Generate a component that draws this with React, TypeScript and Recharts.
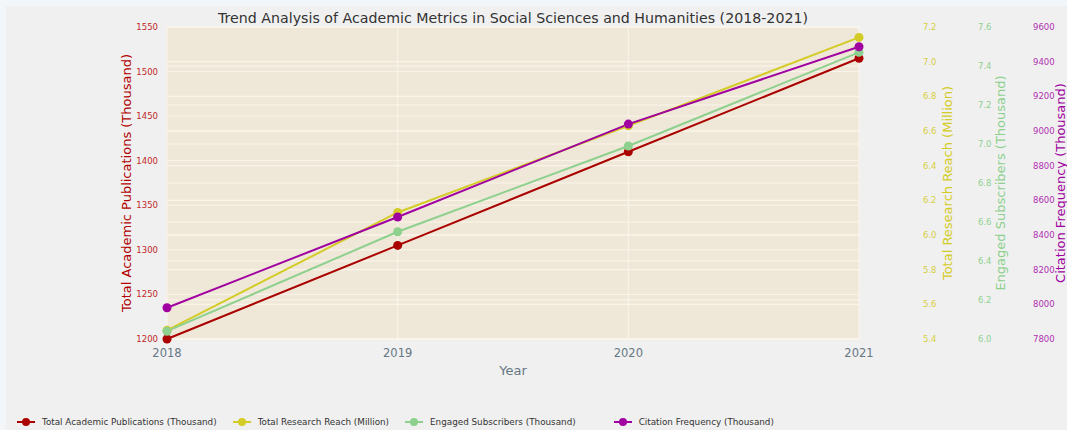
import { LineChart, Line, XAxis, YAxis, CartesianGrid } from 'recharts';

const years = [2018, 2019, 2020, 2021];
const publications = [1200, 1305, 1410, 1515];
const researchReach = [5.45, 6.13, 6.63, 7.14];
const engagedSubscribers = [6.04, 6.55, 6.99, 7.47];
const citationFrequency = [7980, 8504, 9040, 9486];

const pubTicks = [1200, 1250, 1300, 1350, 1400, 1450, 1500, 1550];
const reachTicks = [5.4, 5.6, 5.8, 6.0, 6.2, 6.4, 6.6, 6.8, 7.0, 7.2];
const subsTicks = [6.0, 6.2, 6.4, 6.6, 6.8, 7.0, 7.2, 7.4, 7.6];
const citeTicks = [7800, 8000, 8200, 8400, 8600, 8800, 9000, 9200, 9400, 9600];

// axis ids are prefixed so the right-hand axes stack in this order
const series = [
  { key: 'pub', axis: 'y1', name: 'Total Academic Publications (Thousand)', color: '#aa0000', tick: '#c02828' },
  { key: 'reach', axis: 'y2', name: 'Total Research Reach (Million)', color: '#d4cc26', tick: '#d6cf3e' },
  { key: 'subs', axis: 'y3', name: 'Engaged Subscribers (Thousand)', color: '#8ed08e', tick: '#8ed08e' },
  { key: 'cite', axis: 'y4', name: 'Citation Frequency (Thousand)', color: '#a000a0', tick: '#b030b0' },
];

const data = years.map((year, i) => ({
  year,
  pub: publications[i],
  reach: researchReach[i],
  subs: engagedSubscribers[i],
  cite: citationFrequency[i],
}));

const FONT = '"DejaVu Sans", sans-serif';
const PLOT_BG = '#efe8d8';
const GRID = '#faf5ea';

// rotated axis title, placed relative to the axis box
const axisTitle = (text: string, color: string, dx: number) => ({
  content: (props: any) => {
    const vb = props.viewBox || {};
    const cx = vb.x + dx;
    const cy = vb.y + vb.height / 2;
    return (
      <text
        x={cx}
        y={cy}
        transform={`rotate(-90 ${cx} ${cy})`}
        textAnchor="middle"
        dominantBaseline="central"
        fill={color}
        fontSize={13}
        fontFamily={FONT}
      >
        {text}
      </text>
    );
  },
});

const xTitle = {
  content: (props: any) => {
    const vb = props.viewBox || {};
    return (
      <text
        x={vb.x + vb.width / 2}
        y={vb.y + 31}
        textAnchor="middle"
        dominantBaseline="central"
        fill="#667785"
        fontSize={13}
        fontFamily={FONT}
      >
        Year
      </text>
    );
  },
};

function LegendRow() {
  return (
    <div
      style={{
        position: 'absolute',
        left: 17,
        top: 416,
        display: 'flex',
        alignItems: 'center',
        gap: 16,
        fontFamily: FONT,
        fontSize: 8.8,
        color: '#333',
        whiteSpace: 'nowrap',
      }}
    >
      {series.map((s) => (
        <div key={s.key} style={{ display: 'flex', alignItems: 'center', gap: 7, marginRight: s.key === 'subs' ? 22 : 0 }}>
          <svg width={18} height={12}>
            <line x1={0} y1={6} x2={18} y2={6} stroke={s.color} strokeWidth={2} />
            <circle cx={9} cy={6} r={4} fill={s.color} />
          </svg>
          <span>{s.name}</span>
        </div>
      ))}
    </div>
  );
}

export default function App() {
  const tickStyle = (fill: string) => ({ fill, fontSize: 8.5, fontFamily: FONT });
  return (
    <div style={{ position: 'absolute', left: 0, top: 0, width: 1067, height: 430, background: '#f3f6f9', overflow: 'hidden' }}>
      <div style={{ position: 'absolute', left: 6, top: 6, width: 1061, height: 424, background: '#f0f0f0' }} />
      <div
        style={{
          position: 'absolute',
          left: 167,
          width: 692,
          top: 8,
          lineHeight: '20px',
          textAlign: 'center',
          fontFamily: FONT,
          fontSize: 14.2,
          color: '#333',
          whiteSpace: 'nowrap',
        }}
      >
        Trend Analysis of Academic Metrics in Social Sciences and Humanities (2018-2021)
      </div>
      <div style={{ position: 'absolute', left: 0, top: 0 }}>
        <LineChart width={1067} height={430} data={data} margin={{ top: 27, right: 0, bottom: 41, left: 0 }}>
          <CartesianGrid yAxisId="y1" fill={PLOT_BG} stroke={GRID} strokeWidth={1} />
          <CartesianGrid yAxisId="y2" vertical={false} stroke={GRID} strokeWidth={1} />
          <CartesianGrid yAxisId="y3" vertical={false} stroke={GRID} strokeWidth={1} />
          <CartesianGrid yAxisId="y4" vertical={false} stroke={GRID} strokeWidth={1} />
          <XAxis
            dataKey="year"
            type="number"
            domain={[2018, 2021]}
            ticks={years}
            axisLine={false}
            tickLine={false}
            tickSize={0}
            tickMargin={10}
            height={50}
            tick={{ fill: '#667785', fontSize: 11.5, fontFamily: FONT }}
            label={xTitle}
          />
          <YAxis
            yAxisId="y1"
            orientation="left"
            width={167}
            domain={[1200, 1550]}
            ticks={pubTicks}
            axisLine={false}
            tickLine={false}
            tickSize={0}
            tickMargin={9}
            tick={tickStyle(series[0].tick)}
            label={axisTitle(series[0].name, '#b00000', 126)}
          />
          <YAxis
            yAxisId="y2"
            orientation="right"
            width={100}
            domain={[5.4, 7.2]}
            ticks={reachTicks}
            tickFormatter={(v: number) => v.toFixed(1)}
            axisLine={false}
            tickLine={false}
            tickSize={0}
            tickMargin={64}
            tick={tickStyle(series[1].tick)}
            label={axisTitle(series[1].name, series[1].color, 88)}
          />
          <YAxis
            yAxisId="y3"
            orientation="right"
            width={55}
            domain={[6.0, 7.6]}
            ticks={subsTicks}
            tickFormatter={(v: number) => v.toFixed(1)}
            axisLine={false}
            tickLine={false}
            tickSize={0}
            tickMargin={19}
            tick={tickStyle(series[2].tick)}
            label={axisTitle(series[2].name, series[2].color, 41)}
          />
          <YAxis
            yAxisId="y4"
            orientation="right"
            width={53}
            domain={[7800, 9600]}
            ticks={citeTicks}
            axisLine={false}
            tickLine={false}
            tickSize={0}
            tickMargin={19}
            tick={tickStyle(series[3].tick)}
            label={axisTitle(series[3].name, series[3].color, 46)}
          />
          {series.map((s) => (
            <Line
              key={s.key}
              yAxisId={s.axis}
              dataKey={s.key}
              name={s.name}
              stroke={s.color}
              strokeWidth={2}
              dot={{ r: 4.5, fill: s.color, stroke: 'none' }}
              activeDot={false}
              isAnimationActive={false}
            />
          ))}
        </LineChart>
      </div>
      <LegendRow />
    </div>
  );
}
